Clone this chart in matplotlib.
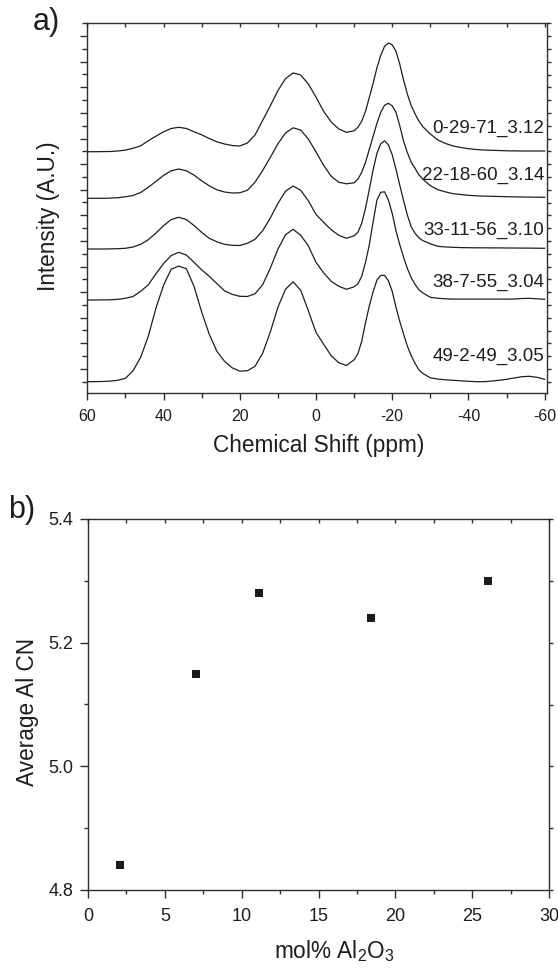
import numpy as np
import matplotlib
matplotlib.use('Agg')
import matplotlib.pyplot as plt
from matplotlib.ticker import FixedLocator, MultipleLocator, FormatStrFormatter, NullFormatter

plt.rcParams['font.family'] = ['Liberation Sans', 'DejaVu Sans']
plt.rcParams['mathtext.fontset'] = 'custom'
plt.rcParams['mathtext.rm'] = 'Liberation Sans'
plt.rcParams['mathtext.it'] = 'Liberation Sans:italic'
plt.rcParams['axes.unicode_minus'] = False

# ---------------- data ----------------
# chemical shift grid (ppm): 2 ppm steps, 1 ppm steps across the sharp -18 ppm band
shift = np.concatenate([np.arange(60, -9, -2), np.arange(-10, -28, -1), np.arange(-28, -61, -2)])

int_0_29_71 = [241.6, 241.6, 241.7, 241.8, 242.3, 243.2, 245.0, 247.5, 252.5, 257.1,
               261.5, 264.8, 266.0, 264.8, 261.5, 258.5, 254.8, 251.5, 249.3, 247.8,
               247.3, 250.3, 258.3, 272.8, 287.3, 302.7, 314.6, 320.4, 318.3, 309.3,
               296.3, 282.0, 271.3, 264.3, 261.0,
               262.5, 266.0, 272.0, 282.0, 296.0, 310.0, 325.5, 338.0, 347.0, 350.3,
               348.5, 342.0, 329.0, 313.0, 299.0, 287.5, 279.5, 272.3,
               266.8, 259.3, 253.3, 249.8, 247.3, 245.8, 244.6, 243.8, 243.3, 243.0,
               242.8, 242.5, 242.4, 242.3, 242.3, 242.3, 242.3]

int_22_18_60 = [195.0, 195.0, 195.0, 195.2, 195.6, 196.5, 197.8, 200.8, 206.0, 211.8,
                217.9, 222.5, 224.3, 222.5, 218.2, 212.5, 207.5, 203.5, 201.3, 200.3,
                200.5, 203.0, 211.0, 222.7, 235.8, 249.4, 260.3, 265.5, 263.2, 254.3,
                241.4, 228.0, 217.0, 211.0, 209.5,
                210.5, 214.0, 221.0, 231.0, 244.0, 257.0, 270.0, 281.0, 288.0, 290.0,
                287.5, 281.0, 267.4, 252.0, 240.5, 231.0, 225.0, 218.5,
                214.3, 207.6, 203.6, 201.4, 199.6, 198.8, 198.0, 197.5, 197.2, 197.0,
                196.8, 196.6, 196.4, 196.3, 196.2, 196.1, 196.0]

int_33_11_56 = [144.3, 144.3, 144.3, 144.4, 144.6, 145.0, 146.3, 149.0, 153.6, 160.2,
                167.6, 173.7, 176.0, 173.7, 167.8, 161.0, 155.0, 151.5, 149.0, 148.0,
                147.8, 150.0, 154.0, 162.5, 175.1, 189.8, 202.1, 207.3, 203.0, 192.5,
                179.0, 171.0, 163.5, 158.0, 155.0,
                157.5, 161.0, 170.0, 185.0, 204.0, 223.5, 240.0, 249.5, 252.5, 248.5,
                238.6, 224.0, 208.0, 192.5, 178.0, 166.5, 160.0, 155.5,
                152.8, 149.5, 147.0, 146.3, 146.0, 145.7, 145.6, 145.5, 145.5, 145.4,
                145.4, 145.3, 145.3, 145.2, 145.2, 145.1, 145.0]

int_38_7_55 = [93.3, 93.3, 93.4, 93.5, 94.0, 95.0, 96.8, 102.0, 108.5, 119.5,
               129.7, 137.7, 141.0, 138.2, 131.0, 123.5, 117.0, 109.7, 102.5, 99.0,
               97.0, 96.8, 99.5, 108.5, 125.0, 144.0, 158.5, 164.0, 158.0, 147.5,
               131.0, 120.5, 112.0, 107.0, 104.0,
               106.5, 109.5, 117.0, 131.0, 148.5, 171.5, 193.3, 201.0, 201.5, 193.3,
               180.0, 162.5, 148.4, 136.0, 124.6, 115.5, 109.0, 103.5,
               100.5, 96.0, 95.0, 94.5, 94.2, 94.2, 94.2, 94.2, 94.2, 94.2,
               94.2, 94.2, 94.3, 94.8, 95.0, 94.5, 94.0]

int_49_2_49 = [11.6, 11.7, 11.8, 12.2, 13.0, 15.0, 22.5, 36.0, 57.0, 85.0,
               108.0, 124.0, 127.3, 124.5, 107.0, 81.5, 59.0, 42.0, 32.0, 25.5,
               22.2, 22.5, 27.0, 40.0, 61.0, 86.0, 104.0, 111.5, 103.0, 82.5,
               61.0, 49.2, 37.5, 30.5, 27.8,
               33.5, 39.5, 52.0, 70.5, 87.5, 101.5, 113.3, 117.8, 118.0, 112.5,
               102.0, 86.0, 71.7, 59.0, 47.0, 37.5, 30.0, 23.5,
               20.0, 15.5, 14.2, 13.5, 13.0, 12.5, 12.0, 11.6, 11.6, 12.2,
               13.0, 14.0, 15.3, 16.6, 17.0, 16.0, 14.0]

spectra = [int_0_29_71, int_22_18_60, int_33_11_56, int_38_7_55, int_49_2_49]
labels = ['0-29-71_3.12', '22-18-60_3.14', '33-11-56_3.10', '38-7-55_3.04', '49-2-49_3.05']

al2o3_mol = [2.1, 7.05, 11.1, 18.4, 26.0]
avg_al_cn = [4.84, 5.15, 5.28, 5.24, 5.30]

# ---------------- layout ----------------
W, H = 558, 969
fig = plt.figure(figsize=(W / 100, H / 100), dpi=100)
def fx(px): return px / W
def fy(py): return 1 - py / H

ink = '#1e1e1e'
spine_c = '#2e2e2e'

# ---------- panel a ----------
ax1 = fig.add_axes([fx(87.3), fy(393.3), fx(547.3) - fx(87.3), fy(22.7) - fy(393.3)])
for s in spectra:
    ax1.plot(shift, s, color=ink, lw=0.9, solid_joinstyle='round')
ax1.set_xlim(60, -60.7)
ax1.set_ylim(0, 370.6)

label_h = [265.0, 218.3, 163.3, 110.6, 36.6]
for txt, yh in zip(labels, label_h):
    ax1.text(-59.9, yh, txt, ha='right', va='center', fontsize=13.5, color=ink)

ax1.xaxis.set_major_locator(MultipleLocator(20))
ax1.xaxis.set_minor_locator(MultipleLocator(10))
ax1.xaxis.set_major_formatter(FormatStrFormatter('%d'))
yt = 11.6 + 12.8 * np.arange(0, 29)
ax1.yaxis.set_major_locator(FixedLocator(yt[1::2]))
ax1.yaxis.set_minor_locator(FixedLocator(yt[0::2]))
ax1.yaxis.set_major_formatter(NullFormatter())
ax1.tick_params(axis='x', which='major', direction='out', length=5, width=1, pad=6,
                labelsize=11.5, colors=spine_c, labelcolor=ink)
ax1.tick_params(axis='x', which='minor', direction='out', length=3.5, width=1, colors=spine_c)
ax1.tick_params(axis='y', which='major', direction='out', length=5, width=1, colors=spine_c)
ax1.tick_params(axis='y', which='minor', direction='out', length=3.5, width=1, colors=spine_c)

sx1 = ax1.secondary_xaxis('top')
sx1.set_xticks(np.arange(60, -61, -10))
sx1.set_xticklabels([])
sx1.tick_params(direction='in', length=3, width=1, colors=spine_c)
sx1.spines['top'].set_visible(False)
sy1 = ax1.secondary_yaxis('right')
sy1.set_yticks(yt)
sy1.set_yticklabels([])
sy1.tick_params(direction='out', length=3, width=1, colors=spine_c)
sy1.spines['right'].set_visible(False)

for sp in ax1.spines.values():
    sp.set_color(spine_c)
    sp.set_linewidth(1.0)

fig.text(fx(319), fy(451.7), 'Chemical Shift (ppm)', ha='center', va='baseline',
         fontsize=16.3, color=ink)
fig.text(fx(48), fy(216), 'Intensity (A.U.)', ha='center', va='center', rotation=90,
         fontsize=16.3, color=ink)
fig.text(fx(33), fy(30), 'a)', ha='left', va='baseline', fontsize=22, color=ink)

# ---------- panel b ----------
ax2 = fig.add_axes([fx(88), fy(890), fx(549) - fx(88), fy(519) - fy(890)])
ax2.plot(al2o3_mol, avg_al_cn, linestyle='none', marker='s', markersize=6,
         color='#1a1a1a', markeredgewidth=0)
ax2.set_xlim(0, 30)
ax2.set_ylim(4.8, 5.4)
ax2.xaxis.set_major_locator(MultipleLocator(5))
ax2.xaxis.set_minor_locator(MultipleLocator(2.5))
ax2.yaxis.set_major_locator(MultipleLocator(0.2))
ax2.yaxis.set_minor_locator(MultipleLocator(0.1))
ax2.yaxis.set_major_formatter(FormatStrFormatter('%.1f'))
ax2.tick_params(axis='both', which='major', direction='out', length=5.5, width=1,
                labelsize=13, colors=spine_c, labelcolor=ink)
ax2.tick_params(axis='x', which='major', pad=7.5)
ax2.tick_params(axis='y', which='major', pad=5)
ax2.tick_params(axis='both', which='minor', direction='out', length=3, width=1, colors=spine_c)

sx2 = ax2.secondary_xaxis('top')
sx2.set_xticks(np.arange(0, 30.1, 2.5))
sx2.set_xticklabels([])
sx2.tick_params(direction='in', length=3, width=1, colors=spine_c)
sx2.spines['top'].set_visible(False)
sy2 = ax2.secondary_yaxis('right')
sy2.set_yticks(np.arange(4.8, 5.41, 0.1))
sy2.set_yticklabels([])
sy2.tick_params(direction='out', length=3, width=1, colors=spine_c)
sy2.spines['right'].set_visible(False)

for sp in ax2.spines.values():
    sp.set_color(spine_c)
    sp.set_linewidth(1.0)

fig.text(fx(334), fy(958.3), r'mol% Al$_2$O$_3$', ha='center', va='baseline',
         fontsize=16.3, color=ink)
fig.text(fx(27.5), fy(712), 'Average Al CN', ha='center', va='center', rotation=90,
         fontsize=16.3, color=ink)
fig.text(fx(8), fy(518), 'b)', ha='left', va='baseline', fontsize=22, color=ink)

fig.savefig('out.png', dpi=100)
